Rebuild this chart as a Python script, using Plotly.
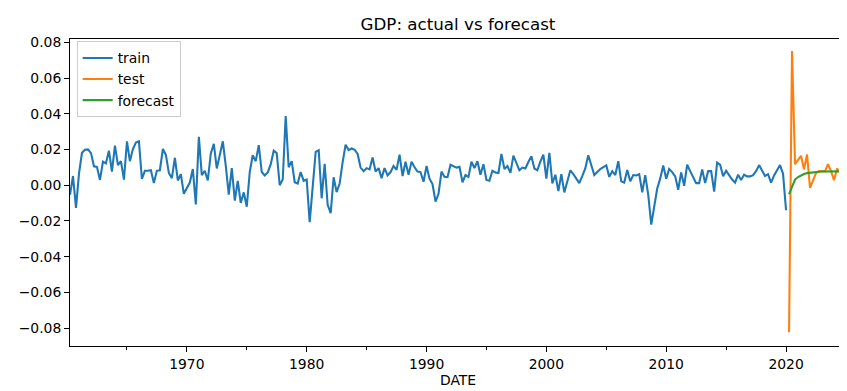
import pandas as pd
import plotly.graph_objects as go

# Quarterly GDP growth (fraction), train: 1960Q2 .. 2020Q1
train = [
    -0.0053, 0.0052, -0.0127,
    0.0067, 0.0182, 0.0199, 0.0201,
    0.0180, 0.0106, 0.0103, 0.0030,
    0.0132, 0.0122, 0.0194, 0.0077,
    0.0222, 0.0113, 0.0135, 0.0032,
    0.0246, 0.0135, 0.0203, 0.0239,
    0.0246, 0.0035, 0.0081, 0.0081,
    0.0084, 0.0012, 0.0081, 0.0084,
    0.0203, 0.0170, 0.0069, 0.0040,
    0.0154, 0.0027, 0.0062, -0.0048,
    -0.0015, 0.0015, 0.0091, -0.0107,
    0.0271, 0.0057, 0.0081, 0.0027,
    0.0178, 0.0232, 0.0094, 0.0166,
    0.0246, 0.0108, -0.0053, 0.0096,
    -0.0086, 0.0025, -0.0099, -0.0040,
    -0.0120, 0.0074, 0.0168, 0.0135,
    0.0225, 0.0074, 0.0055, 0.0072,
    0.0118, 0.0194, 0.0180, 0.0000,
    0.0032, 0.0388, 0.0101, 0.0135,
    0.0017, 0.0010, 0.0074, 0.0025,
    0.0032, -0.0206, -0.0013, 0.0187,
    0.0196, -0.0073, 0.0120, -0.0109,
    -0.0156, 0.0045, -0.0038, 0.0010,
    0.0130, 0.0227, 0.0197, 0.0206,
    0.0199, 0.0175, 0.0099, 0.0079,
    0.0096, 0.0089, 0.0156, 0.0077,
    0.0096, 0.0040, 0.0096, 0.0055,
    0.0074, 0.0108, 0.0086, 0.0171,
    0.0052, 0.0132, 0.0059, 0.0132,
    0.0101, 0.0077, 0.0074, 0.0020,
    0.0108, 0.0037, 0.0007, -0.0091,
    -0.0048, 0.0077, 0.0047, 0.0045,
    0.0115, 0.0108, 0.0099, 0.0103,
    0.0017, 0.0057, 0.0047, 0.0132,
    0.0096, 0.0135, 0.0059, 0.0118,
    0.0030, 0.0025, 0.0081, 0.0072,
    0.0069, 0.0175, 0.0091, 0.0108,
    0.0069, 0.0166, 0.0125, 0.0084,
    0.0099, 0.0094, 0.0130, 0.0163,
    0.0094, 0.0084, 0.0132, 0.0171,
    0.0037, 0.0182, 0.0010, 0.0059,
    -0.0033, 0.0062, -0.0040, 0.0027,
    0.0084, 0.0062, 0.0040, 0.0012,
    0.0052, 0.0094, 0.0168, 0.0118,
    0.0057, 0.0074, 0.0091, 0.0101,
    0.0111, 0.0047, 0.0079, 0.0057,
    0.0135, 0.0022, 0.0015, 0.0086,
    0.0022, 0.0057, 0.0055, 0.0062,
    -0.0040, 0.0057, -0.0053, -0.0220,
    -0.0117, -0.0018, 0.0037, 0.0111,
    0.0037, 0.0091, 0.0074, 0.0050,
    -0.0025, 0.0072, -0.0003, 0.0115,
    0.0079, 0.0042, 0.0012, 0.0012,
    0.0089, 0.0012, 0.0079, 0.0079,
    -0.0035, 0.0127, 0.0115, 0.0050,
    0.0081, 0.0057, 0.0032, 0.0015,
    0.0059, 0.0030, 0.0059, 0.0050,
    0.0050, 0.0057, 0.0079, 0.0113,
    0.0081, 0.0052, 0.0062, 0.0015,
    0.0055, 0.0084, 0.0113, 0.0064,
    -0.0140,
]

# test: 2020Q2 .. 2025Q1
test = [-0.0823, 0.0752, 0.0118, 0.0145, 0.0165, 0.0090, 0.0172, -0.0015,
        0.0025, 0.0068, 0.0080, 0.0080, 0.0078, 0.0118, 0.0080, 0.0028,
        0.0090, 0.0084, 0.0066, -0.0010]

forecast = [-0.0050, -0.0008, 0.0032, 0.0046, 0.0056, 0.0063, 0.0068, 0.0071,
            0.0073, 0.0075, 0.0076, 0.0077, 0.0077, 0.0078, 0.0078, 0.0078,
            0.0078, 0.0078, 0.0078, 0.0078]

train_start = "1960-04-01"
test_start = "2020-04-01"

major_years = [1970, 1980, 1990, 2000, 2010, 2020]
major_labels = ["1970", "1980", "1990", "2000", "2010", "2020"]
minor_years = [1965, 1975, 1985, 1995, 2005, 2015, 2025]
y_ticks = [-0.08, -0.06, -0.04, -0.02, 0.0, 0.02, 0.04, 0.06, 0.08]

train_dates = pd.date_range(train_start, periods=len(train), freq="QS")
test_dates = pd.date_range(test_start, periods=len(test), freq="QS")

FONT = "DejaVu Sans"
LW = 2.08

fig = go.Figure()
fig.add_trace(go.Scatter(x=train_dates, y=train, mode="lines", name="train",
                         line=dict(color="#1f77b4", width=LW)))
fig.add_trace(go.Scatter(x=test_dates, y=test, mode="lines", name="test",
                         line=dict(color="#ff7f0e", width=LW)))
fig.add_trace(go.Scatter(x=test_dates, y=forecast, mode="lines", name="forecast",
                         line=dict(color="#2ca02c", width=LW)))

fig.update_layout(
    width=847, height=391,
    margin=dict(l=62, r=9, t=31, b=53),
    plot_bgcolor="white", paper_bgcolor="white",
    font=dict(family=FONT, size=13.9, color="black"),
    title=dict(text="GDP: actual vs forecast", x=0.5, xref="paper", xanchor="center",
               y=1 - 16 / 391, yref="container", yanchor="middle",
               font=dict(family=FONT, size=16.7, color="black")),
    showlegend=True,
    legend=dict(x=0.0086, y=0.992, xanchor="left", yanchor="top",
                bgcolor="rgba(255,255,255,0.8)", bordercolor="#cccccc", borderwidth=1,
                itemwidth=30, font=dict(family=FONT, size=13.9, color="black")),
)

fig.update_xaxes(
    type="date",
    range=[train_start, "2025-01-01"],
    tickmode="array",
    tickvals=[f"{y}-01-01" for y in major_years],
    ticktext=major_labels,
    ticks="outside", ticklen=4.9, tickwidth=1.1, tickcolor="black",
    showline=True, linecolor="black", linewidth=1.1, mirror=True,
    showgrid=False, zeroline=False,
    minor=dict(tickmode="array", tickvals=[f"{y}-01-01" for y in minor_years],
               ticks="outside", ticklen=2.8, tickwidth=0.9, tickcolor="black",
               showgrid=False),
)
fig.update_yaxes(
    range=[-0.0900, 0.0819],
    tickmode="array", tickvals=y_ticks, tickformat=".2f",
    ticks="outside", ticklen=4.9, tickwidth=1.1, tickcolor="black",
    showline=True, linecolor="black", linewidth=1.1, mirror=True,
    showgrid=False, zeroline=False,
)

fig.add_annotation(text="DATE", x=0.5, xref="paper", y=(338 - 372) / 307, yref="paper",
                   xanchor="center", yanchor="middle", showarrow=False,
                   font=dict(family=FONT, size=13.9, color="black"))

fig.write_html("out.html")
